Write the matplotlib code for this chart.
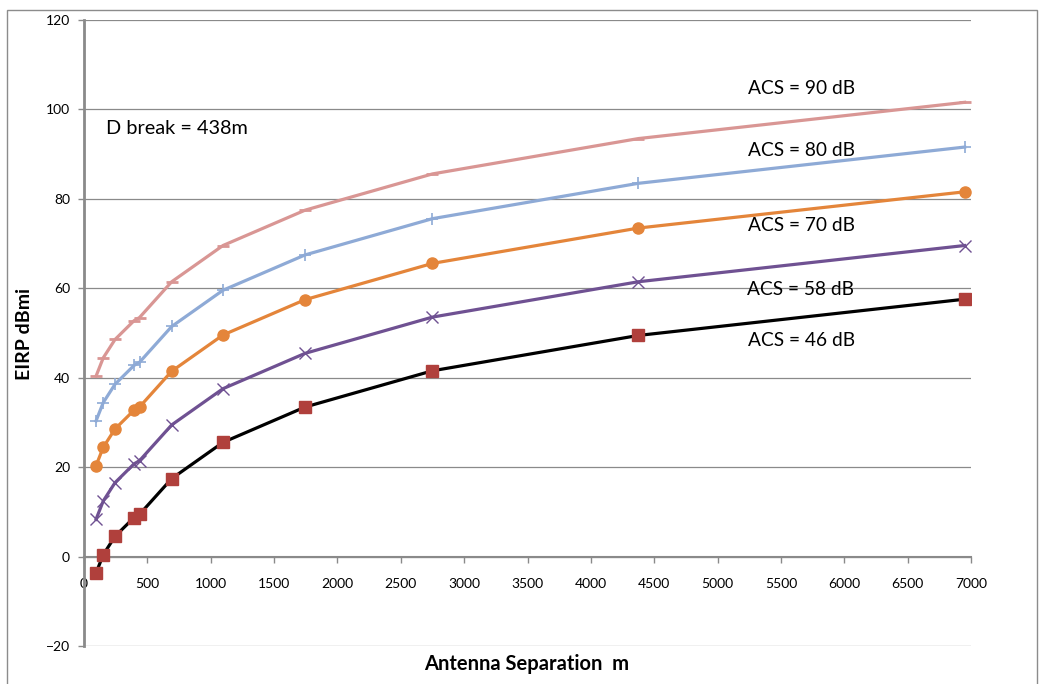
import matplotlib
matplotlib.use("Agg")
import matplotlib.pyplot as plt
from matplotlib.patches import Rectangle

# ---- data ----
distance_m = [95, 152, 245, 395, 438, 692, 1097, 1745, 2750, 4375, 6950]
acs46 = [-3.6, 0.5, 4.6, 8.8, 9.5, 17.5, 25.6, 33.5, 41.6, 49.5, 57.6]
acs58 = [8.4, 12.5, 16.6, 20.8, 21.5, 29.5, 37.6, 45.5, 53.6, 61.5, 69.6]
acs70 = [20.4, 24.5, 28.6, 32.8, 33.5, 41.5, 49.6, 57.5, 65.6, 73.5, 81.6]
acs80 = [30.4, 34.5, 38.6, 42.8, 43.5, 51.5, 59.6, 67.5, 75.6, 83.5, 91.6]
acs90 = [40.4, 44.5, 48.6, 52.8, 53.5, 61.5, 69.6, 77.5, 85.6, 93.5, 101.6]

series_labels = ["ACS = 90 dB", "ACS = 80 dB", "ACS = 70 dB", "ACS = 58 dB", "ACS = 46 dB"]
label_x = [5240, 5240, 5240, 5230, 5240]
label_y = [104.6, 90.8, 74.0, 59.8, 48.3]
x_ticks = list(range(0, 7001, 500))
y_ticks = list(range(-20, 121, 20))

plt.rcParams['font.family'] = ['Lato', 'DejaVu Sans']

fig = plt.figure(figsize=(10.4, 6.84), dpi=100)
fig.patches.append(Rectangle((7 / 1040, -0.1), 0.9975 - 7 / 1040, (674 + 68.4) / 684, transform=fig.transFigure,
                             fill=False, edgecolor='#8c8c8c', linewidth=1.0))
ax = fig.add_axes([84 / 1040, 1 - 646.4 / 684, (971 - 84) / 1040, (646.4 - 20) / 684])

grid_c = '#8a8a8a'
for yv in y_ticks:
    ax.axhline(yv, color=grid_c, lw=0.9, zorder=1)

ax.plot(distance_m, acs90, color='#D99694', lw=2.3, marker='_', ms=9, mew=2, zorder=3)
ax.plot(distance_m, acs80, color='#8EAAD6', lw=2.3, marker='+', ms=9, mew=1.2, zorder=3)
ax.plot(distance_m, acs70, color='#E4853A', lw=2.3, marker='o', ms=8, zorder=3)
ax.plot(distance_m, acs58, color='#6F5192', lw=2.3, marker='x', ms=8, mew=1.0, zorder=3)
ax.plot(distance_m, acs46, color='black', lw=2.3, marker='s', ms=8.5, mfc='#B0403C', mec='#B0403C', zorder=3)

for t, lx, ly in zip(series_labels, label_x, label_y):
    ax.text(lx, ly, t, fontsize=13.8, ha='left', va='center', zorder=4)
ax.text(174, 95.7, "D break = 438m", fontsize=14.3, ha='left', va='center', zorder=4)

ax.set_xlim(0, 7000)
ax.set_ylim(-20, 120)
ax.set_xticks(x_ticks)
ax.set_yticks(y_ticks)

for s in ['top', 'right']:
    ax.spines[s].set_visible(False)
ax.spines['left'].set_color(grid_c)
ax.spines['left'].set_linewidth(2)
ax.spines['bottom'].set_position(('data', 0))
ax.spines['bottom'].set_color(grid_c)
ax.spines['bottom'].set_linewidth(1.5)
ax.tick_params(axis='both', colors=grid_c, labelcolor='black', labelsize=10, length=4, width=1)
ax.tick_params(axis='x', pad=11)
ax.tick_params(axis='y', pad=6)

fig.text(25 / 1040, 1 - 334 / 684, "EIRP dBmi", rotation=90, ha='center', va='center',
         fontsize=14, fontweight='bold')
fig.text(527 / 1040, 1 - 664 / 684, "Antenna Separation  m", ha='center', va='center',
         fontsize=14.5, fontweight='bold')

fig.savefig("out.png", dpi=100)
